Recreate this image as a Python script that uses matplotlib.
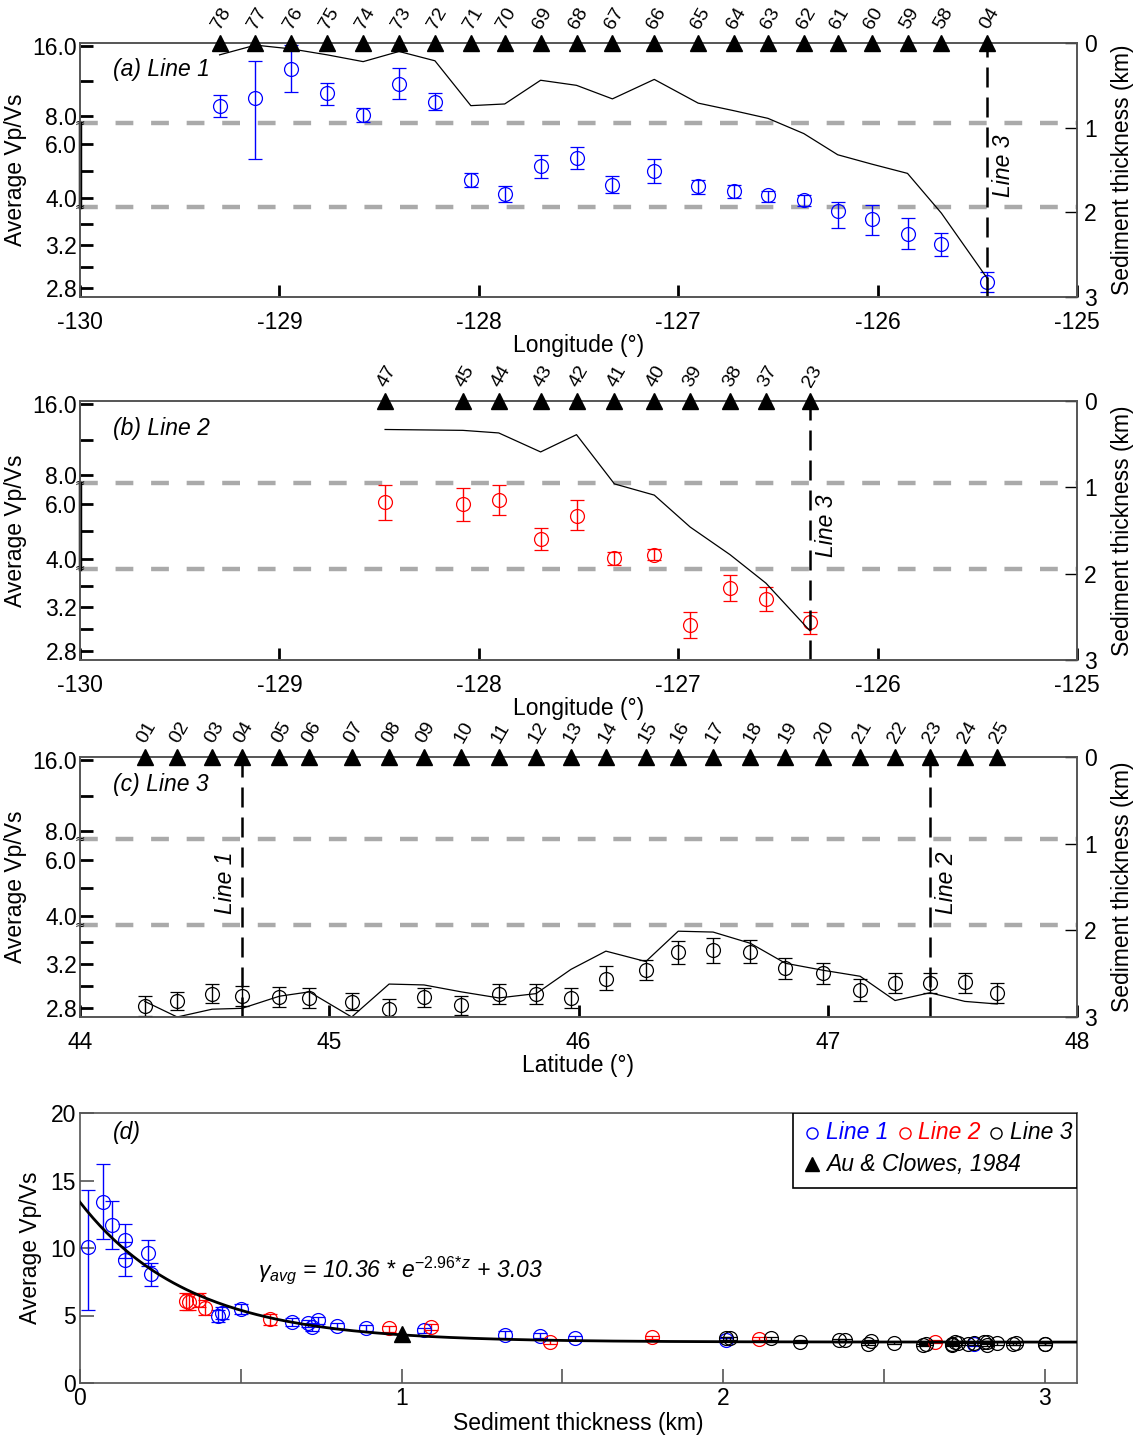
import numpy as np
import matplotlib
matplotlib.use('Agg')
import matplotlib.pyplot as plt
from matplotlib.patches import Rectangle

plt.rcParams['font.family'] = ['Liberation Sans', 'DejaVu Sans']
plt.rcParams['mathtext.fontset'] = 'custom'
plt.rcParams['mathtext.rm'] = 'Liberation Sans'
plt.rcParams['mathtext.it'] = 'Liberation Sans:italic'
plt.rcParams['axes.unicode_minus'] = False

BLUE, RED, BLACK = '#0000ff', '#ff0000', '#000000'
SPINE, GREYDASH = '#555555', '#aaaaaa'

# ---- Line 1 (E-W, longitude) ----
l1_sta = ['78', '77', '76', '75', '74', '73', '72', '71', '70', '69', '68',
          '67', '66', '65', '64', '63', '62', '61', '60', '59', '58', '04']
l1_lon = [-129.30, -129.12, -128.94, -128.76, -128.58, -128.40, -128.22,
          -128.04, -127.87, -127.69, -127.51, -127.33, -127.12, -126.90,
          -126.72, -126.55, -126.37, -126.20, -126.03, -125.85, -125.68, -125.45]
l1_vpvs = [9.12, 10.04, 13.40, 10.57, 8.07, 11.69, 9.63, 4.65, 4.15, 5.19, 5.47,
           4.49, 5.00, 4.43, 4.25, 4.09, 3.94, 3.52, 3.45, 3.31, 3.21, 2.86]
l1_lo = [7.90, 5.44, 10.70, 9.23, 7.22, 9.90, 8.63, 4.39, 3.85, 4.75, 5.08,
         4.20, 4.54, 4.15, 4.00, 3.85, 3.70, 3.36, 3.30, 3.17, 3.10, 2.77]
l1_hi = [10.41, 14.26, 16.20, 11.80, 8.90, 13.47, 10.57, 4.92, 4.43, 5.61, 5.88,
         4.80, 5.43, 4.67, 4.47, 4.27, 4.10, 3.85, 3.73, 3.46, 3.32, 2.95]
l1_sed = [0.14, 0.025, 0.07, 0.14, 0.22, 0.10, 0.21, 0.74, 0.72, 0.44, 0.50,
          0.66, 0.43, 0.71, 0.80, 0.89, 1.07, 1.32, 1.43, 1.54, 2.01, 2.78]

# ---- Line 2 (E-W, longitude) ----
l2_sta = ['47', '45', '44', '43', '42', '41', '40', '39', '38', '37', '23']
l2_lon = [-128.47, -128.08, -127.90, -127.69, -127.51, -127.32, -127.12,
          -126.94, -126.74, -126.56, -126.34]
l2_vpvs = [6.06, 6.00, 6.16, 4.74, 5.58, 4.04, 4.16, 3.04, 3.38, 3.28, 3.07]
l2_lo = [5.42, 5.39, 5.61, 4.31, 5.06, 3.78, 3.96, 2.92, 3.26, 3.17, 2.96]
l2_hi = [6.68, 6.57, 6.68, 5.14, 6.14, 4.25, 4.37, 3.16, 3.50, 3.39, 3.16]
l2_sed = [0.33, 0.34, 0.37, 0.59, 0.39, 0.96, 1.09, 1.46, 1.78, 2.11, 2.66]

# ---- Line 3 (N-S, latitude) ----
l3_sta = ['01', '02', '03', '04', '05', '06', '07', '08', '09', '10', '11', '12',
          '13', '14', '15', '16', '17', '18', '19', '20', '21', '22', '23', '24', '25']
l3_lat = [44.26, 44.39, 44.53, 44.65, 44.80, 44.92, 45.09, 45.24, 45.38, 45.53,
          45.68, 45.83, 45.97, 46.11, 46.27, 46.40, 46.54, 46.69, 46.83, 46.98,
          47.13, 47.27, 47.41, 47.55, 47.68]
l3_vpvs = [2.82, 2.87, 2.93, 2.91, 2.90, 2.89, 2.86, 2.79, 2.90, 2.83, 2.93, 2.93,
           2.89, 3.07, 3.15, 3.31, 3.33, 3.31, 3.17, 3.12, 2.97, 3.03, 3.03, 3.04, 2.94]
l3_lo = [2.73, 2.78, 2.85, 2.82, 2.81, 2.80, 2.78, 2.71, 2.81, 2.74, 2.84, 2.84,
         2.80, 2.97, 3.06, 3.20, 3.21, 3.21, 3.07, 3.02, 2.87, 2.94, 2.94, 2.94, 2.85]
l3_hi = [2.91, 2.95, 3.02, 3.00, 2.99, 2.98, 2.94, 2.88, 2.98, 2.91, 3.02, 3.02,
         2.98, 3.18, 3.24, 3.41, 3.44, 3.42, 3.26, 3.21, 3.07, 3.12, 3.12, 3.12, 3.03]
l3_sed = [2.82, 3.00, 2.91, 2.90, 2.76, 2.71, 3.00, 2.62, 2.63, 2.71, 2.78, 2.73,
          2.45, 2.24, 2.36, 2.01, 2.02, 2.15, 2.38, 2.46, 2.53, 2.81, 2.72, 2.82, 2.85]

# Au & Clowes (1984) reference value and the exponential fit
AU_SED, AU_VPVS = [1.0], [3.6]
FIT_A, FIT_B, FIT_C = 10.36, 2.96, 3.03

# broken Vp/Vs axis: three linear pieces glued at the grey dashed lines
BRK_V = [2.72, 3.555, 3.65, 6.77, 7.12, 16.38]
BRK_P = [0.0, 0.353, 0.353, 0.684, 0.684, 1.0]
BREAKS = [3.6, 6.9]


def fwd(v):
    return np.interp(v, BRK_V, BRK_P)


def inv(p):
    return np.interp(p, BRK_P, BRK_V)


TICK_FS, LABEL_FS = 16.5, 16.5


def style_spines(ax):
    for s in ax.spines.values():
        s.set_color(SPINE)
        s.set_linewidth(1.2)


def profile(rect, x, sta, vpvs, lo, hi, sed, color, xlim, xlabel, title,
            crossings, thick_mid=True):
    ax = fig.add_axes(rect)
    ax.set_yscale('function', functions=(fwd, inv))
    ax.set_ylim(BRK_V[0], BRK_V[-1])
    ax.set_xlim(*xlim)
    style_spines(ax)
    ax.set_yticks([16, 8, 6, 4, 3.2, 2.8])
    ax.set_yticklabels(['16.0', '8.0', '6.0', '4.0', '3.2', '2.8'])
    ax.set_yticks([12, 5, 3.0, 3.4], minor=True)
    ax.set_xticks(np.arange(xlim[0], xlim[1] + 1))
    ax.tick_params(axis='y', which='both', direction='in', length=9, width=2,
                   color='k', labelsize=TICK_FS, pad=2)
    ax.tick_params(axis='x', direction='in', length=9, width=2, color='k',
                   labelsize=TICK_FS, pad=10)
    ax.set_ylabel('Average Vp/Vs', fontsize=LABEL_FS, labelpad=4)
    ax.set_xlabel(xlabel, fontsize=LABEL_FS, labelpad=0)

    for b in BREAKS:
        ax.axhline(b, color=GREYDASH, lw=3.2, dashes=(4, 4), zorder=1)
        ax.text(0, b, '≈', transform=ax.get_yaxis_transform(), ha='center',
                va='center', fontsize=9, family='DejaVu Sans', clip_on=False)
    if thick_mid:
        ax.plot([0, 0], [BRK_V[2], BRK_V[3]], transform=ax.get_yaxis_transform(),
                color='k', lw=2.5, clip_on=False, zorder=4)

    yerr = [np.subtract(vpvs, lo), np.subtract(hi, vpvs)]
    ax.errorbar(x, vpvs, yerr=yerr, fmt='o', ms=10, mfc='none', mec=color,
                mew=0.9, ecolor=color, elinewidth=1.0, capsize=4.7,
                capthick=2.2, zorder=3)
    ax.text(0.033, 0.895, title, transform=ax.transAxes, fontsize=LABEL_FS,
            style='italic', va='center')

    ax2 = ax.twinx()
    ax2.set_ylim(3, 0)
    style_spines(ax2)
    ax2.set_yticks([0, 1, 2, 3])
    ax2.set_yticklabels(['0', '1', '2', '3'], va='center_baseline')
    ax2.tick_params(axis='y', direction='in', length=9, width=1, color='k',
                    labelsize=TICK_FS, pad=5)
    ax2.set_ylabel('Sediment thickness (km)', fontsize=LABEL_FS, labelpad=10)
    ax2.plot(x, sed, color='k', lw=0.9)
    ax2.plot(x, np.zeros(len(x)), ls='none', marker='^', ms=11, color='k',
             clip_on=False, zorder=6)
    for xi, s in zip(x, sta):
        ax2.annotate(s, (xi, 0), xytext=(3, 8), textcoords='offset points',
                     rotation=60, rotation_mode='anchor', ha='left',
                     va='bottom', fontsize=14, annotation_clip=False)
    for xc, name, side in crossings:
        ax2.axvline(xc, color='k', lw=1.8, dashes=(8, 4), zorder=2)
        ax2.annotate(name, (xc, 1.45), xytext=(12 * side, 0),
                     textcoords='offset points', rotation=90, ha='center',
                     va='center', fontsize=LABEL_FS, style='italic')
    return ax


fig = plt.figure(figsize=(11.41, 14.35), dpi=100)
W, H = 1141, 1435


def rect(top, bottom):
    return [80 / W, (H - bottom) / H, 997 / W, (bottom - top) / H]


profile(rect(43, 297), l1_lon, l1_sta, l1_vpvs, l1_lo, l1_hi, l1_sed, BLUE,
        (-130, -125), 'Longitude (°)', '(a) Line 1',
        [(l1_lon[l1_sta.index('04')], 'Line 3', 1)])
profile(rect(401, 660), l2_lon, l2_sta, l2_vpvs, l2_lo, l2_hi, l2_sed, RED,
        (-130, -125), 'Longitude (°)', '(b) Line 2',
        [(l2_lon[l2_sta.index('23')], 'Line 3', 1)])
profile(rect(757, 1017), l3_lat, l3_sta, l3_vpvs, l3_lo, l3_hi, l3_sed, BLACK,
        (44, 48), 'Latitude (°)', '(c) Line 3',
        [(l3_lat[l3_sta.index('04')], 'Line 1', -1),
         (l3_lat[l3_sta.index('23')], 'Line 2', 1)], thick_mid=False)

# ---- (d) Vp/Vs against sediment thickness ----
axd = fig.add_axes(rect(1113, 1383))
style_spines(axd)
axd.set_xlim(0, 3.1)
axd.set_ylim(0, 20)
axd.set_xticks([0, 1, 2, 3])
axd.set_xticks([0.5, 1.5, 2.5], minor=True)
axd.set_yticks([0, 5, 10, 15, 20])
axd.tick_params(axis='both', which='both', direction='in', length=10, width=1.2,
                color=SPINE, labelsize=TICK_FS)
axd.tick_params(axis='x', pad=3)
axd.tick_params(axis='y', pad=3)
axd.set_xlabel('Sediment thickness (km)', fontsize=LABEL_FS, labelpad=1)
axd.set_ylabel('Average Vp/Vs', fontsize=LABEL_FS, labelpad=6)

for sed, v, lo, hi, col in ((l1_sed, l1_vpvs, l1_lo, l1_hi, BLUE),
                            (l2_sed, l2_vpvs, l2_lo, l2_hi, RED),
                            (l3_sed, l3_vpvs, l3_lo, l3_hi, BLACK)):
    axd.errorbar(sed, v, yerr=[np.subtract(v, lo), np.subtract(hi, v)], fmt='o',
                 ms=10, mfc='none', mec=col, mew=0.9, ecolor=col, elinewidth=1.0,
                 capsize=4.7, capthick=2.2, zorder=3)

z = np.linspace(0, 3.1, 300)
axd.plot(z, FIT_A * np.exp(-FIT_B * z) + FIT_C, color='k', lw=2, zorder=4)
axd.plot(AU_SED, AU_VPVS, ls='none', marker='^', ms=11, color='k', zorder=5)

axd.text(0.033, 0.926, '(d)', transform=axd.transAxes, fontsize=LABEL_FS,
         style='italic', va='center')
axd.text(0.1785, 0.419,
         r'$\mathregular{γ}_{avg}$ = 10.36 * e$^{-2.96\!*\!z}$ + 3.03',
         transform=axd.transAxes, fontsize=LABEL_FS, style='italic',
         va='center', ha='left')

# hand-built legend box in the upper right corner
axd.add_patch(Rectangle((0.715, 0.722), 0.285, 0.278, transform=axd.transAxes,
                        facecolor='white', edgecolor='k', lw=1.2, zorder=6))
row1, row2 = 0.926, 0.811
for xm, name, col in ((0.734, 'Line 1', BLUE), (0.827, 'Line 2', RED),
                      (0.919, 'Line 3', BLACK)):
    axd.plot([xm], [row1], transform=axd.transAxes, ls='none', marker='o', ms=8,
             mfc='none', mec=col, mew=1, zorder=7)
    axd.text(xm + 0.014, row1, name, transform=axd.transAxes, color=col,
             fontsize=LABEL_FS, style='italic', va='center', zorder=7)
axd.plot([0.734], [row2], transform=axd.transAxes, ls='none', marker='^', ms=10,
         color='k', zorder=7)
axd.text(0.748, row2, 'Au & Clowes, 1984', transform=axd.transAxes,
         fontsize=LABEL_FS, style='italic', va='center', zorder=7)

fig.savefig('out.png', dpi=100)
